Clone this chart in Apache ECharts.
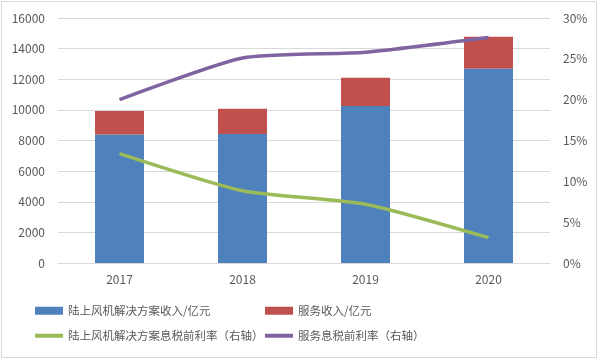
<!DOCTYPE html>
<html><head><meta charset="utf-8">
<script src="https://cdn.jsdelivr.net/npm/echarts@6/dist/echarts.min.js"></script>
<style>html,body{margin:0;padding:0;background:#fff}#c{width:600px;height:360px}</style>
</head><body><div id="c"></div>
<script>
const categories = ['2017', '2018', '2019', '2020'];
const onshoreRevenue = [8400, 8420, 10250, 12700];
const serviceRevenue = [1530, 1660, 1850, 2080];
const onshoreMargin = [13.4, 8.85, 7.2, 3.1];
const serviceMargin = [20.0, 25.1, 25.8, 27.6];
const seriesNames = ['陆上风机解决方案收入/亿元', '服务收入/亿元', '陆上风机解决方案息税前利率（右轴）', '服务息税前利率（右轴）'];

const txt = '#595959';
const font = '"Noto Sans CJK SC", "Noto Sans", sans-serif';
function lg(name, left, top, isLine) {
  return {
    data: [name], left: left, top: top, icon: 'rect', padding: 0,
    itemWidth: 28, itemHeight: isLine ? 4 : 8, itemGap: 4,
    textStyle: {color: txt, fontSize: 11.5, fontFamily: font}
  };
}
const chart = echarts.init(document.getElementById('c'));
chart.setOption({
  animation: false,
  textStyle: {fontFamily: font},
  grid: {left: 58, right: 50, top: 18, bottom: 97},
  legend: [
    lg(seriesNames[0], 35, 305, false),
    lg(seriesNames[1], 265, 305, false),
    lg(seriesNames[2], 35, 330, true),
    lg(seriesNames[3], 265, 330, true)
  ],
  graphic: [{type: 'rect', shape: {x: 1.5, y: 1.5, width: 595, height: 356}, style: {fill: 'none', stroke: '#D9D9D9', lineWidth: 1}, silent: true}],
  xAxis: {
    type: 'category', data: categories,
    axisLine: {lineStyle: {color: '#D9D9D9'}},
    axisTick: {show: false},
    axisLabel: {color: txt, fontSize: 12, margin: 10}
  },
  yAxis: [{
    type: 'value', min: 0, max: 16000, interval: 2000,
    axisLine: {show: false}, axisTick: {show: false},
    axisLabel: {color: txt, fontSize: 12, margin: 13, formatter: v => String(v)},
    splitLine: {lineStyle: {color: '#D9D9D9'}}
  }, {
    type: 'value', min: 0, max: 30, interval: 5,
    axisLine: {show: false}, axisTick: {show: false},
    axisLabel: {color: txt, fontSize: 12, margin: 13, formatter: '{value}%'},
    splitLine: {show: false}
  }],
  series: [
    {name: seriesNames[0], type: 'bar', stack: 'r', data: onshoreRevenue, barWidth: 49, itemStyle: {color: '#4F81BD'}},
    {name: seriesNames[1], type: 'bar', stack: 'r', data: serviceRevenue, barWidth: 49, itemStyle: {color: '#C0504D'}},
    {name: seriesNames[2], type: 'line', yAxisIndex: 1, data: onshoreMargin, smooth: 0.2, symbol: 'none', lineStyle: {color: '#9BBB59', width: 3.5}, itemStyle: {color: '#9BBB59'}},
    {name: seriesNames[3], type: 'line', yAxisIndex: 1, data: serviceMargin, smooth: 0.2, symbol: 'none', lineStyle: {color: '#8064A2', width: 3.5}, itemStyle: {color: '#8064A2'}}
  ]
});
</script></body></html>
